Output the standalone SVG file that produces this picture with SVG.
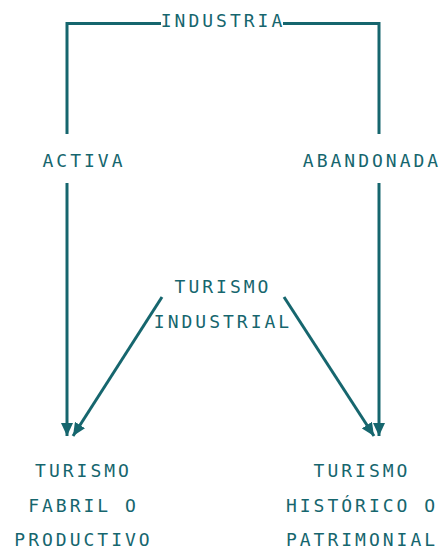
<svg xmlns="http://www.w3.org/2000/svg" width="447" height="550" viewBox="0 0 447 550">
<style>
.t{font-family:"DejaVu Sans Mono","Liberation Mono",monospace;font-size:18px;letter-spacing:3px;fill:#16666e;text-anchor:middle}
.c{stroke:#16666e;stroke-width:3;fill:none}
</style>
<defs>
<marker id="ah" markerUnits="userSpaceOnUse" markerWidth="14" markerHeight="12" refX="13" refY="6" orient="auto">
<path d="M0,0 L13,6 L0,12 Z" fill="#16666e"/>
</marker>
</defs>
<rect width="447" height="550" fill="#ffffff"/>
<g id="connectors">
<path class="c" d="M161,23.5 H67 V134"/>
<path class="c" d="M283,23.5 H379 V134"/>
<line class="c" x1="67" y1="183" x2="67" y2="436" marker-end="url(#ah)"/>
<line class="c" x1="379" y1="183" x2="379" y2="436" marker-end="url(#ah)"/>
<line class="c" x1="162" y1="297" x2="73" y2="436" marker-end="url(#ah)"/>
<line class="c" x1="284" y1="297" x2="374" y2="436" marker-end="url(#ah)"/>
</g>
<g id="industria"><text class="t" x="223" y="26.5">INDUSTRIA</text></g>
<g id="activa"><text class="t" x="84" y="167">ACTIVA</text></g>
<g id="abandonada"><text class="t" x="372" y="167">ABANDONADA</text></g>
<g id="turismo-industrial"><text class="t" x="223" y="293">TURISMO</text><text class="t" x="223" y="328">INDUSTRIAL</text></g>
<g id="turismo-fabril"><text class="t" x="83.5" y="477">TURISMO</text><text class="t" x="83.5" y="511.5">FABRIL O</text><text class="t" x="83.5" y="546">PRODUCTIVO</text></g>
<g id="turismo-historico"><text class="t" x="362" y="477">TURISMO</text><text class="t" x="362" y="511.5">HISTÓRICO O</text><text class="t" x="362" y="546">PATRIMONIAL</text></g>
</svg>
